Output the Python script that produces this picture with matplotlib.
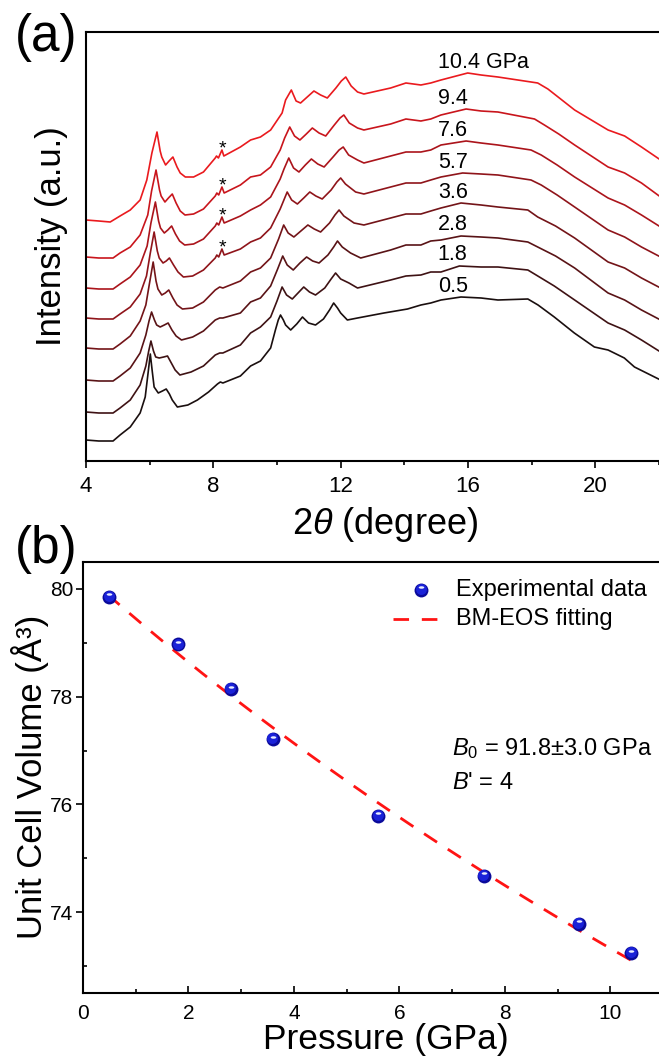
import numpy as np
import matplotlib
matplotlib.use("Agg")
import matplotlib.pyplot as plt
import matplotlib.path as mpath
from matplotlib.transforms import offset_copy, Affine2D

plt.rcParams['font.family'] = ['Liberation Sans', 'DejaVu Sans']
plt.rcParams['mathtext.fontset'] = 'custom'
plt.rcParams['mathtext.rm'] = 'Liberation Sans'
plt.rcParams['mathtext.it'] = 'Liberation Sans:italic'
plt.rcParams['mathtext.bf'] = 'Liberation Sans:bold'

# ---- (a) XRD patterns: (2theta in degree, intensity in a.u.) ----
xrd_05 = [(4.00, 21), (4.40, 20), (4.85, 20), (5.07, 26), (5.39, 34), (5.70, 48), (5.86, 64), (5.95, 88),
          (6.02, 107), (6.08, 90), (6.14, 74), (6.27, 68), (6.40, 70), (6.52, 72), (6.62, 67), (6.71, 61),
          (6.87, 54), (7.20, 56), (7.50, 61), (7.85, 69), (8.13, 77), (8.22, 79), (8.30, 78), (8.85, 85),
          (9.17, 95), (9.48, 100), (9.80, 113), (9.95, 131), (10.04, 141), (10.11, 146), (10.20, 141),
          (10.27, 136), (10.43, 131), (10.62, 137), (10.80, 144), (10.99, 138), (11.21, 136), (11.46, 142),
          (11.65, 151), (11.78, 158), (11.90, 153), (12.00, 148), (12.21, 141), (12.53, 143), (13.36, 148),
          (14.10, 152), (14.52, 156), (14.83, 158), (15.15, 161), (15.78, 164), (16.41, 163), (16.94, 161),
          (17.88, 162), (18.20, 156), (18.71, 144), (19.34, 128), (19.97, 114), (20.40, 111), (20.72, 106),
          (20.91, 103), (21.23, 94), (21.86, 84), (22.05, 81)]
xrd_18 = [(4.00, 19), (4.40, 18), (4.85, 18), (5.07, 23), (5.39, 31), (5.70, 46), (5.88, 65), (5.97, 80),
          (6.04, 90), (6.12, 80), (6.19, 74), (6.30, 73), (6.44, 74), (6.56, 75), (6.68, 68), (6.80, 61),
          (6.95, 56), (7.30, 59), (7.69, 65), (8.06, 76), (8.20, 78), (8.30, 78), (8.85, 86), (9.17, 98),
          (9.48, 104), (9.80, 114), (10.00, 130), (10.16, 144), (10.30, 136), (10.48, 132), (10.66, 138),
          (10.84, 144), (11.02, 139), (11.21, 136), (11.50, 143), (11.70, 152), (11.84, 158), (12.00, 152),
          (12.26, 148), (12.53, 143), (13.57, 151), (14.05, 155), (14.52, 156), (14.83, 159), (15.15, 159),
          (15.73, 165), (16.41, 164), (16.94, 164), (17.88, 161), (18.14, 156), (18.71, 145), (19.35, 131),
          (20.40, 108), (20.92, 101), (21.45, 91), (22.05, 79)]
xrd_28 = [(4.00, 21), (4.40, 20), (4.85, 20), (5.07, 25), (5.39, 33), (5.70, 48), (5.88, 66), (5.98, 80),
          (6.06, 89), (6.15, 81), (6.22, 76), (6.33, 74), (6.46, 76), (6.58, 78), (6.70, 71), (6.83, 65),
          (7.00, 61), (7.35, 64), (7.69, 70), (8.06, 81), (8.20, 83), (8.30, 83), (8.85, 88), (9.17, 99),
          (9.48, 103), (9.80, 115), (10.02, 132), (10.18, 145), (10.32, 136), (10.51, 131), (10.72, 138),
          (10.93, 144), (11.12, 140), (11.32, 138), (11.60, 146), (11.78, 154), (11.90, 160), (12.05, 154),
          (12.31, 148), (12.63, 143), (13.57, 151), (14.05, 156), (14.52, 156), (14.83, 160), (15.15, 161),
          (15.78, 165), (16.41, 164), (16.94, 163), (17.88, 159), (18.19, 154), (18.75, 145), (19.35, 133),
          (20.40, 108), (20.92, 101), (21.45, 91), (22.05, 81)]
xrd_36 = [(4.00, 23), (4.40, 22), (4.85, 22), (5.07, 27), (5.39, 35), (5.70, 50), (5.88, 66), (5.98, 85),
          (6.11, 109), (6.20, 90), (6.26, 82), (6.38, 76), (6.49, 78), (6.60, 81), (6.73, 73), (6.86, 66),
          (7.03, 62), (7.35, 63), (7.69, 69), (8.06, 81), (8.20, 84), (8.30, 83), (8.85, 90), (9.17, 99),
          (9.48, 103), (9.80, 113), (10.05, 132), (10.21, 146), (10.35, 138), (10.53, 134), (10.75, 140),
          (10.97, 146), (11.17, 142), (11.37, 139), (11.65, 148), (11.82, 156), (11.95, 161), (12.10, 155),
          (12.42, 148), (12.73, 146), (13.57, 153), (14.05, 157), (14.52, 157), (14.83, 160), (15.15, 163),
          (15.78, 168), (16.41, 166), (16.94, 164), (17.88, 161), (18.19, 154), (18.75, 145), (19.35, 133),
          (20.40, 109), (20.92, 103), (21.45, 93), (22.05, 83)]
xrd_57 = [(4.00, 23), (4.40, 22), (4.85, 22), (5.07, 27), (5.39, 34), (5.70, 47), (5.90, 65), (6.02, 88),
          (6.14, 109), (6.24, 90), (6.30, 83), (6.42, 78), (6.52, 80), (6.62, 83), (6.75, 76), (6.89, 69),
          (7.06, 64), (7.35, 65), (7.69, 71), (8.06, 83), (8.11, 86), (8.17, 84), (8.27, 92), (8.34, 86),
          (8.85, 92), (9.17, 99), (9.48, 103), (9.80, 113), (10.10, 132), (10.32, 149), (10.46, 141),
          (10.64, 137), (10.84, 143), (11.03, 149), (11.22, 145), (11.42, 142), (11.70, 151), (11.88, 159),
          (12.00, 163), (12.15, 157), (12.47, 149), (12.73, 147), (13.57, 154), (14.05, 158), (14.52, 158),
          (14.83, 161), (15.15, 164), (15.83, 168), (16.41, 167), (16.94, 166), (17.98, 161), (18.30, 156),
          (18.80, 146), (19.35, 134), (20.40, 111), (20.92, 104), (21.45, 94), (22.05, 84)]
xrd_76 = [(4.00, 23), (4.40, 22), (4.85, 22), (5.07, 27), (5.39, 34), (5.70, 46), (5.92, 65), (6.04, 88),
          (6.18, 109), (6.28, 90), (6.34, 83), (6.46, 78), (6.57, 81), (6.69, 85), (6.81, 77), (6.94, 70),
          (7.10, 66), (7.38, 67), (7.69, 72), (8.06, 85), (8.11, 88), (8.17, 86), (8.27, 94), (8.34, 88),
          (8.85, 95), (9.17, 101), (9.48, 106), (9.80, 114), (10.10, 132), (10.22, 142), (10.37, 153),
          (10.52, 143), (10.69, 139), (10.89, 146), (11.08, 152), (11.28, 147), (11.48, 144), (11.76, 154),
          (11.95, 161), (12.08, 164), (12.25, 156), (12.53, 151), (12.73, 148), (13.57, 155), (14.05, 159),
          (14.52, 159), (14.83, 161), (15.15, 166), (15.94, 170), (16.41, 168), (16.94, 166), (17.98, 161),
          (18.30, 156), (18.80, 146), (19.35, 134), (20.40, 113), (20.92, 106), (21.45, 96), (22.05, 84)]
xrd_94 = [(4.00, 24), (4.40, 23), (4.85, 23), (5.07, 28), (5.39, 34), (5.70, 46), (5.94, 66), (6.06, 90),
          (6.20, 111), (6.31, 91), (6.36, 85), (6.48, 79), (6.59, 83), (6.71, 87), (6.83, 78), (6.96, 70),
          (7.11, 66), (7.38, 67), (7.69, 72), (8.06, 85), (8.11, 88), (8.17, 86), (8.27, 94), (8.34, 88),
          (8.85, 96), (9.17, 104), (9.48, 106), (9.80, 114), (10.10, 131), (10.24, 143), (10.40, 154),
          (10.55, 145), (10.72, 141), (10.92, 147), (11.11, 153), (11.32, 148), (11.53, 145), (11.80, 156),
          (11.98, 163), (12.10, 166), (12.27, 158), (12.53, 153), (12.73, 151), (13.57, 157), (14.05, 162),
          (14.52, 160), (14.83, 162), (15.15, 166), (15.94, 172), (16.41, 170), (16.94, 169), (18.09, 162),
          (18.40, 156), (18.85, 147), (19.35, 136), (20.40, 114), (20.92, 108), (21.45, 98), (22.05, 84)]
xrd_104 = [(4.00, 31), (4.40, 30), (4.76, 29), (5.07, 35), (5.39, 41), (5.70, 51), (5.91, 71), (6.07, 98),
           (6.23, 119), (6.33, 100), (6.38, 94), (6.50, 86), (6.61, 90), (6.73, 94), (6.86, 84), (6.96, 78),
           (7.12, 74), (7.38, 74), (7.69, 79), (8.06, 93), (8.10, 95), (8.16, 93), (8.27, 101), (8.33, 95),
           (8.85, 104), (9.17, 111), (9.48, 114), (9.80, 121), (10.16, 138), (10.27, 151), (10.45, 161),
           (10.60, 150), (10.74, 148), (10.95, 154), (11.16, 160), (11.37, 156), (11.58, 153), (11.85, 163),
           (12.02, 170), (12.16, 174), (12.33, 165), (12.53, 159), (12.73, 157), (13.57, 163), (14.05, 168),
           (14.52, 166), (14.83, 168), (15.15, 171), (15.99, 178), (16.41, 176), (16.94, 174), (18.19, 168),
           (18.51, 162), (19.35, 141), (20.40, 121), (20.92, 115), (21.45, 104), (22.05, 91)]

patterns = [xrd_05, xrd_18, xrd_28, xrd_36, xrd_57, xrd_76, xrd_94, xrd_104]
pattern_labels = ['0.5', '1.8', '2.8', '3.6', '5.7', '7.6', '9.4', '10.4 GPa']
starred = [False, False, False, False, True, True, True, True]   # impurity reflection near 8.3 deg
star_pos = 8.27

# ---- (b) P-V data ----
p_exp = [0.5, 1.8, 2.8, 3.6, 5.6, 7.6, 9.4, 10.4]
v_exp = [79.85, 78.97, 78.14, 77.21, 75.79, 74.67, 73.78, 73.24]
B0 = 91.8
B0_err = 3.0
B_prime = 4
V0 = 80.3

colors = ['#1a0f0f', '#3e1214', '#591316', '#731418', '#8f141a', '#ab141b', '#c9151c', '#ea1a1e']
offset_step = 30

W, H = 659, 1059


def px_box(left, top, right, bottom):
    return [left / W, 1 - bottom / H, (right - left) / W, (bottom - top) / H]


def bm_pressure(v):
    """Third-order Birch-Murnaghan pressure (GPa) at volume v."""
    x = (V0 / v) ** (2.0 / 3.0)
    return 1.5 * B0 * (x ** 3.5 - x ** 2.5) * (1 + 0.75 * (B_prime - 4) * (x - 1))


def sphere(ax, x, y, transform, size=100):
    """Blue ball marker with a small highlight."""
    fig = ax.figure
    ax.scatter(x, y, s=size, color='#0a0a9a', linewidths=0, zorder=5, transform=transform, clip_on=False)
    ax.scatter(x, y, s=size * 0.62, color='#1a22d8', linewidths=0, zorder=6, clip_on=False,
               transform=offset_copy(transform, fig=fig, x=-0.4, y=0.8, units='dots'))
    ell = mpath.Path.unit_circle().transformed(Affine2D().scale(1.0, 0.45))
    ax.scatter(x, y, s=size * 0.16, marker=ell, color='#e8ecff', linewidths=0, zorder=7, clip_on=False,
               transform=offset_copy(transform, fig=fig, x=0, y=2.6, units='dots'))


fig = plt.figure(figsize=(6.59, 10.59), dpi=100)

# ---------------- panel (a) ----------------
ax1 = fig.add_axes(px_box(86, 32, 659, 461))
for i, pattern in enumerate(patterns):
    tt, inten = np.array(pattern, dtype=float).T
    off = i * offset_step
    ax1.plot(tt, inten + off, color=colors[i], lw=1.2, solid_joinstyle='round')
    hump = inten[(tt > 15) & (tt < 17)].max()
    ax1.text(15.05, hump + off + 11, pattern_labels[i], ha='left', va='center', fontsize=15.5)
    if starred[i]:
        ax1.text(star_pos + 0.03, np.interp(star_pos, tt, inten) + off + 1, '*',
                 ha='center', va='center', fontsize=14)

ax1.set_xlim(4, 22)
ax1.set_ylim(0, 429)
ax1.set_yticks([])
ax1.set_xticks([4, 8, 12, 16, 20])
ax1.set_xticks([6, 10, 14, 18, 22], minor=True)
ax1.tick_params(axis='x', which='major', direction='out', length=5, width=1.2, labelsize=16, pad=6)
ax1.tick_params(axis='x', which='minor', direction='out', length=3, width=1.2)
for side in ['left', 'top', 'bottom']:
    ax1.spines[side].set_linewidth(1.5)
ax1.spines['right'].set_visible(False)

# ---------------- panel (b) ----------------
ax2 = fig.add_axes(px_box(83, 562, 663, 993))
v_fit = np.linspace(72.5, V0, 600)
p_fit = bm_pressure(v_fit)
keep = (p_fit >= min(p_exp)) & (p_fit <= max(p_exp))
ax2.plot(p_fit[keep], v_fit[keep], color='#ff1414', lw=2.0, linestyle=(0, (5.6, 4.6)), zorder=3)
sphere(ax2, p_exp, v_exp, ax2.transData)

ax2.set_xlim(0, 11)
ax2.set_ylim(72.5, 80.5)
ax2.set_xticks([0, 2, 4, 6, 8, 10])
ax2.set_xticks([1, 3, 5, 7, 9], minor=True)
ax2.set_yticks([74, 76, 78, 80])
ax2.set_yticks([73, 75, 77, 79], minor=True)
ax2.tick_params(axis='x', which='major', direction='in', length=5, width=1.2, labelsize=15, pad=8)
ax2.tick_params(axis='x', which='minor', direction='in', length=2.6, width=1.2)
ax2.tick_params(axis='y', which='major', direction='out', length=5, width=1.2, labelsize=15, pad=2)
ax2.tick_params(axis='y', which='minor', direction='in', length=2.6, width=1.2)
for side in ['left', 'top', 'bottom']:
    ax2.spines[side].set_linewidth(1.5)
ax2.spines['right'].set_visible(False)

# legend drawn by hand
sphere(ax2, [0.583], [0.935], ax2.transAxes)
ax2.plot([0.5345, 0.6103], [0.868, 0.868], transform=ax2.transAxes, color='#ff1414', lw=2.0,
         linestyle=(0, (5.6, 4.6)), clip_on=False)
ax2.text(0.643, 0.935, 'Experimental data', transform=ax2.transAxes, ha='left', va='center', fontsize=17)
ax2.text(0.643, 0.868, 'BM-EOS fitting', transform=ax2.transAxes, ha='left', va='center', fontsize=17)

ax2.text(0.636, 0.568, r'$B_0$ = %.1f±%.1f GPa' % (B0, B0_err), transform=ax2.transAxes,
         ha='left', va='center', fontsize=17)
ax2.text(0.636, 0.487, r"$B$' = %d" % B_prime, transform=ax2.transAxes,
         ha='left', va='center', fontsize=17)

# axis titles and panel tags
fig.text(51 / W, 1 - 236 / H, 'Intensity (a.u.)', rotation=90, ha='center', va='center', fontsize=25)
fig.text(385 / W, 1 - 524 / H, r'2$\theta$ (degree)', ha='center', va='center', fontsize=26)
fig.text(30 / W, 1 - 777 / H, 'Unit Cell Volume (Å³)', rotation=90, ha='center', va='center', fontsize=25)
fig.text(386 / W, 1 - 1039 / H, 'Pressure (GPa)', ha='center', va='center', fontsize=25.5)
fig.text(15 / W, 1 - 38 / H, '(a)', ha='left', va='center', fontsize=37)
fig.text(15 / W, 1 - 549 / H, '(b)', ha='left', va='center', fontsize=37)

fig.savefig('out.png', dpi=100)
